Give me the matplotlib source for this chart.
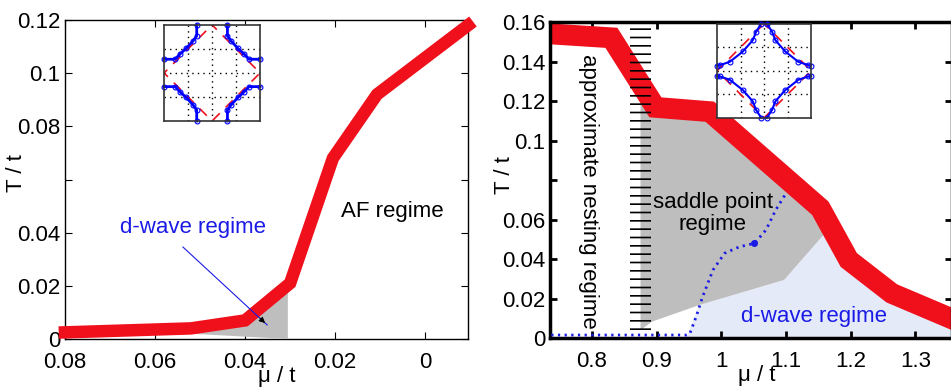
import numpy as np
import matplotlib.pyplot as plt

plt.rcParams['font.family'] = ['Liberation Sans', 'DejaVu Sans']
plt.rcParams['hatch.linewidth'] = 1.2

#####################################################################
# data
#####################################################################
# left panel: AF line
mu_af = [0.08, 0.052, 0.040, 0.030, 0.0205, 0.0107, -0.0095]
T_af = [0.0025, 0.004, 0.007, 0.021, 0.068, 0.092, 0.118]
# grey d-wave pocket below it
mu_dw = [0.052, 0.040, 0.0305, 0.0305]
T_dw = [0.002, 0.0065, 0.019, 0.0]

left_xticks = [0.08, 0.06, 0.04, 0.02, 0]
left_xlabels = ['0.08', '0.06', '0.04', '0.02', '0']
left_yticks = [0, 0.02, 0.04, 0.06, 0.08, 0.1, 0.12]
left_ylabels = ['0', '0.02', '0.04', '', '0.08', '0.1', '0.12']

# right panel: Tc line
mu_tc = [0.735, 0.830, 0.898, 0.982, 1.153, 1.197, 1.2635, 1.36]
T_tc = [0.154, 0.152, 0.1168, 0.1146, 0.0657, 0.0395, 0.0226, 0.0092]
# saddle point region (grey)
mu_sp = [0.875, 0.893, 0.966, 1.097, 1.160, 1.153, 0.982, 0.898, 0.875]
T_sp = [0.004, 0.0083, 0.0167, 0.0294, 0.053, 0.0657, 0.1146, 0.1168, 0.125]
# d-wave region (light blue)
mu_dr = [0.946, 0.966, 1.097, 1.160, 1.197, 1.2635, 1.36, 1.36]
T_dr = [0.0, 0.0167, 0.0294, 0.053, 0.0395, 0.0226, 0.0092, 0.0]
# dotted blue boundary
mu_dot = [0.737, 0.946, 0.951, 0.961, 0.971, 0.987, 1.005, 1.028, 1.051, 1.069, 1.084, 1.100]
T_dot = [0.0015, 0.0015, 0.002, 0.0108, 0.0209, 0.0344, 0.0429, 0.0462, 0.0479, 0.0547, 0.0648, 0.0733]
dot_mu, dot_T = 1.051, 0.0479
# hatched nesting strip
hatch_mu = [0.858, 0.891]
hatch_T = [0.003, 0.1576]

right_xticks = [0.8, 0.9, 1.0, 1.1, 1.2, 1.3]
right_xlabels = ['0.8', '0.9', '1', '1.1', '1.2', '1.3']
right_yticks = [0, 0.02, 0.04, 0.06, 0.08, 0.1, 0.12, 0.14, 0.16]
right_ylabels = ['0', '0.02', '0.04', '0.06', '', '0.1', '0.12', '0.14', '0.16']

# insets: one quadrant of the Fermi surface (mirrored)
fs1_u = [-0.32, -0.32, -0.40, -0.54, -0.66, -0.77, -1.0]
fs1_v = [1.0, 0.77, 0.66, 0.51, 0.40, 0.285, 0.285]
fs2_u = [-0.06, -0.17, -0.24, -0.45, -0.73, -0.94, -1.0]
fs2_v = [1.0, 0.83, 0.65, 0.41, 0.19, 0.12, 0.11]
zb_u = [0, 1, 0, -1, 0]
zb_v = [1, 0, -1, 0, 1]

RED = '#F0101C'
BLUE = '#1A1AE6'
FS = 16

fig = plt.figure(figsize=(9.51, 3.89), dpi=100)

#####################################################################
# left panel
#####################################################################
ax1 = fig.add_axes([0.0683, 0.1285, 0.4238, 0.8201])
ax1.fill(mu_dw, T_dw, color='#BEBEBE', lw=0, zorder=3)
ax1.plot(mu_af, T_af, color=RED, lw=9, solid_joinstyle='miter', zorder=4, clip_on=False)
ax1.set_xlim(0.08, -0.0095)
ax1.set_ylim(0, 0.12)
ax1.set_xticks(left_xticks)
ax1.set_xticklabels(left_xlabels)
ax1.set_yticks(left_yticks)
ax1.set_yticklabels(left_ylabels)
ax1.tick_params(direction='in', top=True, right=True, labelsize=FS, length=5)
ax1.tick_params(axis='x', pad=9)
for s in ax1.spines.values():
    s.set_linewidth(1.0)
ax1.set_xlabel(u'\u03bc / t', fontsize=FS)
ax1.set_ylabel('T / t', fontsize=FS)
ax1.xaxis.set_label_coords(0.526, -0.085)
ax1.yaxis.set_label_coords(-0.094, 0.52)

ax1.text(0.0073, 0.048, 'AF regime', fontsize=FS, ha='center', va='center')
ax1.text(0.0516, 0.042, 'd-wave regime', fontsize=FS, color=BLUE, ha='center', va='center')
ax1.plot([0.0538, 0.0351], [0.0346, 0.0053], color=BLUE, lw=0.8, zorder=5)
ax1.annotate('', xy=(0.0351, 0.0053), xytext=(0.0372, 0.0086),
             arrowprops=dict(arrowstyle='-|>', color='black', lw=0.6, mutation_scale=9), zorder=6)

#####################################################################
# right panel
#####################################################################
ax2 = fig.add_axes([0.5783, 0.1311, 0.4227, 0.8123])
ax2.fill(mu_dr, T_dr, color='#E4EAF8', lw=0, zorder=1)
ax2.fill(mu_sp, T_sp, color='#BEBEBE', lw=0, zorder=1.2)
ax2.plot(mu_tc, T_tc, color=RED, lw=15, solid_joinstyle='miter', zorder=2)
ax2.fill_betweenx(hatch_T, hatch_mu[0], hatch_mu[1], facecolor='none',
                  edgecolor='black', hatch='--', lw=0, zorder=3)
ax2.plot(mu_dot, T_dot, color=BLUE, lw=2, ls=(0, (0.8, 1.6)), zorder=3)
ax2.plot([dot_mu], [dot_T], 'o', color=BLUE, ms=4, zorder=3)
ax2.set_xlim(0.735, 1.3565)
ax2.set_ylim(0, 0.16)
ax2.set_xticks(right_xticks)
ax2.set_xticklabels(right_xlabels)
ax2.set_yticks(right_yticks)
ax2.set_yticklabels(right_ylabels)
ax2.tick_params(direction='in', top=True, right=True, labelsize=FS, length=5, width=2)
ax2.tick_params(axis='x', pad=9)
for s in ax2.spines.values():
    s.set_linewidth(2.5)
ax2.set_xlabel(u'\u03bc / t', fontsize=FS)
ax2.set_ylabel('T / t', fontsize=FS)
ax2.xaxis.set_label_coords(0.515, -0.085)
ax2.yaxis.set_label_coords(-0.087, 0.516)

ax2.text(0.7944, 0.0741, 'approximate nesting regime', fontsize=FS, rotation=-90,
         ha='center', va='center')
ax2.text(0.9866, 0.0631, 'saddle point\nregime', fontsize=FS, ha='center', va='center',
         linespacing=1.1, zorder=4)
ax2.text(1.143, 0.0108, 'd-wave regime', fontsize=FS, color=BLUE, ha='center', va='center')

#####################################################################
# insets
#####################################################################
def inset(rect, fu, fv, lw):
    ax = fig.add_axes(rect)
    ax.set_xlim(-1, 1)
    ax.set_ylim(-1, 1)
    ax.set_xticks([-0.5, 0, 0.5])
    ax.set_yticks([-0.5, 0, 0.5])
    ax.tick_params(length=0, labelbottom=False, labelleft=False)
    ax.grid(True, color='black', ls=(0, (1, 3)), lw=1)
    ax.plot(zb_u, zb_v, color=RED, lw=1.2, ls=(2, (6, 5)))
    for sx in (-1, 1):
        for sy in (-1, 1):
            ax.plot(sx * np.array(fu), sy * np.array(fv), color='blue', lw=lw,
                    marker='o', ms=3.5, mfc='none', mew=0.8, clip_on=False)
    for s in ax.spines.values():
        s.set_color('#333333')
        s.set_linewidth(1.2)
    return ax

inset([0.1725, 0.689, 0.101, 0.247], fs1_u, fs1_v, 2.0)
inset([0.754, 0.697, 0.0989, 0.242], fs2_u, fs2_v, 1.5)

plt.savefig('out.png', dpi=100)
